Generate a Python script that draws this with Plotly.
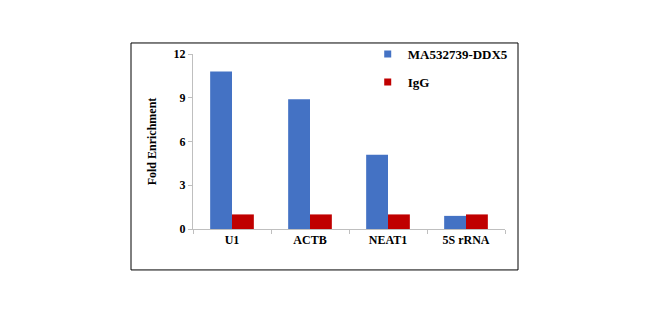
import plotly.graph_objects as go

categories = ["U1", "ACTB", "NEAT1", "5S rRNA"]
ddx5_values = [10.8, 8.9, 5.1, 0.9]
igg_values = [1.0, 1.0, 1.0, 1.0]
y_ticks = [0, 3, 6, 9, 12]

BLUE = "#4472C4"
RED = "#C00000"
FAMILY = "Liberation Serif, Times New Roman, serif"
FONT = dict(family=FAMILY, size=12, color="#000000", weight="bold")
LEGEND_FONT = dict(FONT, size=13)

fig = go.Figure()
fig.add_trace(go.Bar(name="MA532739-DDX5", x=categories, y=ddx5_values,
                     marker=dict(color=BLUE, line=dict(width=0)), showlegend=False))
fig.add_trace(go.Bar(name="IgG", x=categories, y=igg_values,
                     marker=dict(color=RED, line=dict(width=0)), showlegend=False))

# small square legend keys
fig.add_trace(go.Scatter(name="MA532739-DDX5", x=[None], y=[None], mode="markers",
                         marker=dict(symbol="square", size=7, color=BLUE), legendgroup="a"))
fig.add_trace(go.Scatter(name="IgG", x=[None], y=[None], mode="markers",
                         marker=dict(symbol="square", size=7, color=RED), legendgroup="b"))

fig.update_layout(
    width=650, height=330,
    margin=dict(l=193, r=145, t=54, b=101),
    paper_bgcolor="white", plot_bgcolor="white",
    barmode="group", bargap=0.44, bargroupgap=0,
    font=FONT,
    legend=dict(x=0.56, y=1.085, xanchor="left", yanchor="top",
                itemwidth=30, tracegroupgap=8, font=LEGEND_FONT,
                bgcolor="rgba(0,0,0,0)"),
    xaxis=dict(type="category", showline=True, linecolor="#BFBFBF", linewidth=1,
               ticks="outside", tickson="boundaries", ticklen=4, tickcolor="#BFBFBF",
               tickfont=FONT, showgrid=False),
    yaxis=dict(range=[0, 12], tickvals=y_ticks, showline=True, linecolor="#BFBFBF",
               linewidth=1, ticks="outside", ticklen=4, tickcolor="#BFBFBF",
               showgrid=False, zeroline=False, tickfont=FONT,
               title=dict(text="Fold Enrichment", standoff=14, font=FONT)),
)

# outer chart border
fig.add_shape(type="rect", xref="paper", yref="paper",
              x0=-0.1987, x1=1.0417, y0=-0.234, y1=1.063,
              line=dict(color="#000000", width=1), layer="above")

fig.write_html("out.html")
